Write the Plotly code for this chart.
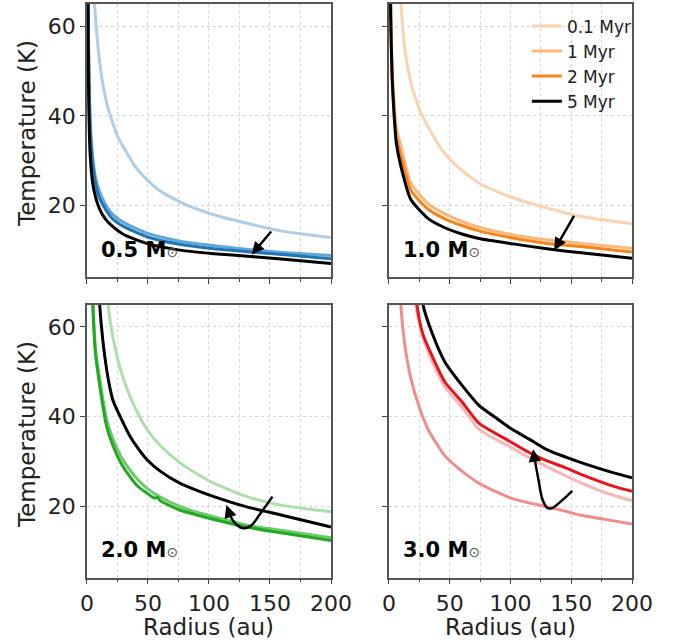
import plotly.graph_objects as go

# ---------------- data ----------------
ages = ["0.1 Myr", "1 Myr", "2 Myr", "5 Myr"]
x_ticks = [0, 50, 100, 150, 200]
y_ticks = [20, 40, 60]

# 0.5 Msun
r_05_01 = [4, 6, 8, 10, 13, 17, 21, 25, 30, 40, 49, 60, 76, 90, 104, 131, 159, 200]
T_05_01 = [80, 66, 58.5, 53, 47, 42, 38.5, 35.5, 33, 28.5, 25.8, 23.2, 20.8, 19.2, 17.9, 16, 14.3, 12.8]
r_05_1 = [0.7, 1.2, 2, 3, 5, 7, 10, 15, 21, 30, 49, 76, 104, 134, 160, 200]
T_05_1 = [80, 58, 45, 37, 30, 26.3, 23.3, 20.3, 18, 16.2, 13.8, 12, 11, 10.1, 9.5, 8.8]
r_05_2 = [0.7, 1.2, 2, 3, 5, 7, 10, 15, 21, 30, 49, 76, 104, 134, 160, 200]
T_05_2 = [80, 56, 43, 35, 28.3, 24.8, 21.8, 19.2, 17, 15.3, 13, 11.3, 10.3, 9.6, 9.0, 8.1]
r_05_5 = [0.6, 1.0, 1.5, 2.5, 4, 6, 10, 15, 21, 30, 49, 76, 104, 134, 159, 200]
T_05_5 = [80, 55, 42, 32, 26.5, 23, 19.4, 17, 15.3, 13.5, 11.5, 10, 9.2, 8.6, 8.0, 7.0]

# 1.0 Msun
r_10_01 = [7, 9.8, 13, 18, 25, 32, 46, 60, 74, 88, 102, 130, 158, 200]
T_10_01 = [80, 65, 55, 47.5, 41.5, 37.6, 31.5, 27.8, 25, 23.2, 21.7, 19.4, 17.5, 15.9]
r_10_1 = [1, 1.4, 2.5, 4, 6, 10, 18, 32, 46, 60, 74, 102, 130, 158, 200]
T_10_1 = [80, 65, 52, 44, 37.5, 33, 25, 20.4, 18.1, 16.4, 15.1, 13.4, 12.3, 11.5, 10.4]
r_10_2 = [0.9, 1.4, 2.5, 4, 6, 10, 18, 32, 46, 60, 74, 102, 130, 158, 200]
T_10_2 = [80, 62, 50, 42, 35.5, 30.8, 23.4, 19.2, 17.0, 15.5, 14.3, 12.7, 11.5, 10.8, 9.6]
r_10_5 = [0.9, 1.4, 2.5, 4, 6, 10, 18, 32, 46, 60, 74, 102, 130, 158, 200]
T_10_5 = [80, 62, 49, 41, 34, 28.5, 21.3, 17.1, 15, 13.6, 12.6, 11.4, 10.3, 9.4, 8.2]

# 2.0 Msun
r_20_01 = [14, 17.3, 21.4, 28, 35, 42, 49, 60, 76, 90, 104, 131, 159, 200]
T_20_01 = [80, 65, 57.5, 50, 44.7, 40.5, 37.2, 33.5, 29.7, 27.2, 25.1, 22.1, 20.2, 18.7]
r_20_1 = [3.5, 5, 7, 10.4, 16, 21.4, 28, 35, 42, 49, 60, 76, 90, 104, 131, 159, 200]
T_20_1 = [80, 65, 55, 48.5, 39.4, 34.9, 31, 28.1, 25.8, 24, 22, 19.9, 18.6, 17.6, 15.7, 14.6, 12.9]
r_20_2 = [3.2, 4.7, 7, 10.4, 16, 21.4, 28, 35, 42, 49, 55, 58, 60, 76, 90, 104, 131, 159, 200]
T_20_2 = [80, 65, 54, 47, 37.9, 33.4, 29.5, 26.6, 24.3, 22.9, 21.8, 21.9, 21.2, 19.1, 18, 17, 15.3, 14, 12.3]
r_20_5 = [8, 10.4, 13, 16, 18.7, 21.4, 28, 35, 42, 49, 60, 76, 90, 104, 131, 159, 200]
T_20_5 = [80, 65, 57, 50.7, 46.5, 43.5, 39.5, 35.7, 32.8, 30.4, 27.8, 25.1, 23.5, 22.1, 19.8, 18, 15.3]

# 3.0 Msun
r_30_01 = [19, 22, 28, 35, 46, 60, 74, 101, 129, 157, 180, 200]
T_30_01 = [80, 65, 57.5, 52.6, 46.6, 42.1, 37.2, 33, 28.9, 25.3, 22.8, 21.2]
r_30_1 = [8, 9.7, 13, 18, 25, 32, 39, 46, 60, 74, 88, 101, 115, 129, 143, 157, 180, 200]
T_30_1 = [80, 65, 56, 48.5, 42, 37.2, 34, 31.2, 27.8, 25.1, 23.2, 21.7, 20.7, 19.9, 19, 18, 16.9, 16]
r_30_2 = [20, 23, 28, 35, 46, 60, 74, 101, 115, 129, 143, 157, 185, 200]
T_30_2 = [80, 65, 58.3, 53.8, 47.7, 43.3, 38.5, 34.2, 32, 30.2, 28.8, 27.2, 24.4, 23.3]
r_30_5 = [25, 28, 35, 46, 60, 74, 88, 101, 115, 129, 157, 185, 200]
T_30_5 = [80, 65, 59, 52.2, 47, 42.5, 39.7, 37.2, 35, 32.7, 29.8, 27.4, 26.3]

# arrows (tail -> head)
arrow_05 = [152, 14.5, 135, 9.0]
arrow_10 = [153, 18.0, 136, 10.0]
arrow_20_r = [152, 142.3, 134, 127.2, 120.3, 116.2, 114.3]
arrow_20_T = [22.1, 18.4, 15.5, 15.1, 16.5, 18.7, 20.2]
arrow_30_r = [150.8, 143, 134.7, 130.6, 126.4, 123, 119.4, 118.6]
arrow_30_T = [23.4, 21.4, 19.6, 19.5, 21.4, 25.9, 31.2, 32.7]

panel_labels = ["0.5", "1.0", "2.0", "3.0"]
x_title = "Radius (au)"
y_title = "Temperature (K)"

# ---------------- styling ----------------
colors = {
    "05": ["#aecde6", "#5fa6d9", "#1f74b4", "#000000"],
    "10": ["#fcd3b0", "#fbb878", "#f8831a", "#000000"],
    "20": ["#ace0a8", "#6ccb6c", "#22a822", "#000000"],
    "30": ["#f5b7b7", "#f08c8c", "#e6141c", "#000000"],
}
data = {
    "05": [(r_05_01, T_05_01), (r_05_1, T_05_1), (r_05_2, T_05_2), (r_05_5, T_05_5)],
    "10": [(r_10_01, T_10_01), (r_10_1, T_10_1), (r_10_2, T_10_2), (r_10_5, T_10_5)],
    "20": [(r_20_01, T_20_01), (r_20_1, T_20_1), (r_20_2, T_20_2), (r_20_5, T_20_5)],
    "30": [(r_30_01, T_30_01), (r_30_1, T_30_1), (r_30_2, T_30_2), (r_30_5, T_30_5)],
}
keys = ["05", "10", "20", "30"]
axes_ids = ["", "2", "3", "4"]

FONT = "DejaVu Sans"
TXT = "#222"
fig = go.Figure()

for k, aid in zip(keys, axes_ids):
    for i, (r, T) in enumerate(data[k]):
        fig.add_trace(go.Scatter(
            x=r, y=T, mode="lines",
            line=dict(color=colors[k][i], width=3, shape="spline", smoothing=0.6),
            name=ages[i], showlegend=(k == "10"),
            xaxis="x" + aid, yaxis="y" + aid,
        ))

# curved arrows in bottom panels
fig.add_trace(go.Scatter(x=arrow_20_r[:-1], y=arrow_20_T[:-1], mode="lines",
                         line=dict(color="black", width=2.5, shape="spline"),
                         showlegend=False, xaxis="x3", yaxis="y3"))
fig.add_trace(go.Scatter(x=arrow_30_r[:-1], y=arrow_30_T[:-1], mode="lines",
                         line=dict(color="black", width=2.5, shape="spline"),
                         showlegend=False, xaxis="x4", yaxis="y4"))

annotations = []


def arrow(aid, tx, ty, hx, hy):
    annotations.append(dict(
        x=hx, y=hy, ax=tx, ay=ty, xref="x" + aid, yref="y" + aid,
        axref="x" + aid, ayref="y" + aid, showarrow=True, arrowhead=2,
        arrowsize=1, arrowwidth=2.5, arrowcolor="black", standoff=0, text=""))


arrow("", *arrow_05)
arrow("2", *arrow_10)
arrow("3", arrow_20_r[-2], arrow_20_T[-2], arrow_20_r[-1], arrow_20_T[-1])
arrow("4", arrow_30_r[-2], arrow_30_T[-2], arrow_30_r[-1], arrow_30_T[-1])

for lab, aid in zip(panel_labels, axes_ids):
    annotations.append(dict(
        x=0.05, y=0.1, xref=("x" + aid) + " domain", yref=("y" + aid) + " domain",
        xanchor="left", yanchor="middle", showarrow=False,
        text="<b>" + lab + " M</b><span style='font-size:14px;color:#555'>⊙</span>",
        font=dict(family=FONT, size=21, color="black")))

# axis titles (as annotations for precise placement)
for xc in [0.3078, 0.7518]:
    annotations.append(dict(x=xc, y=0.0264, xref="paper", yref="paper",
                            xanchor="center", yanchor="middle", showarrow=False,
                            text=x_title, font=dict(family=FONT, size=23, color=TXT)))
for yc in [0.792, 0.3245]:
    annotations.append(dict(x=0.0398, y=yc, xref="paper", yref="paper",
                            xanchor="center", yanchor="middle", showarrow=False,
                            textangle=-90,
                            text=y_title, font=dict(family=FONT, size=23, color=TXT)))

xdom = {"": [0.1281, 0.4875], "2": [0.5729, 0.9308], "3": [0.1281, 0.4875], "4": [0.5729, 0.9308]}
ydom = {"": [0.5699, 0.9938], "2": [0.5699, 0.9938], "3": [0.1031, 0.5270], "4": [0.1031, 0.5270]}

layout = dict(
    width=679, height=644,
    margin=dict(l=0, r=0, t=0, b=0),
    paper_bgcolor="white", plot_bgcolor="white",
    font=dict(family=FONT, size=22, color=TXT),
    showlegend=True,
    legend=dict(x=0.776, y=0.987, xanchor="left", yanchor="top",
                bgcolor="rgba(0,0,0,0)", font=dict(size=17, color=TXT),
                tracegroupgap=0),
    annotations=annotations,
)

for aid in axes_ids:
    bottom = aid in ("3", "4")
    left = aid in ("", "3")
    layout["xaxis" + aid] = dict(
        domain=xdom[aid], anchor="y" + aid, range=[0, 200],
        tickvals=x_ticks, showticklabels=bottom,
        ticks="outside", ticklen=5, tickwidth=1.2, tickcolor="#444",
        showline=True, linecolor="#555", linewidth=1.5, mirror=True,
        showgrid=True, gridcolor="#d9d9d9", griddash="3px,3px", gridwidth=1,
        minor=dict(dtick=25, tick0=0, ticks="outside", ticklen=3, tickcolor="#444",
                   showgrid=True, gridcolor="#d9d9d9", griddash="3px,3px"),
        zeroline=False, automargin=False,
        tickfont=dict(size=22, color=TXT),
    )
    layout["yaxis" + aid] = dict(
        domain=ydom[aid], anchor="x" + aid, range=[4, 65],
        tickvals=y_ticks, showticklabels=left,
        ticks="outside", ticklen=5, tickwidth=1.2, tickcolor="#444",
        showline=True, linecolor="#555", linewidth=1.5, mirror=True,
        showgrid=True, gridcolor="#d9d9d9", griddash="3px,3px", gridwidth=1,
        zeroline=False, automargin=False,
        tickfont=dict(size=22, color=TXT),
    )

fig.update_layout(**layout)
fig.write_html("out.html", config={"displayModeBar": False},
               post_script="document.body.style.margin='0';")
